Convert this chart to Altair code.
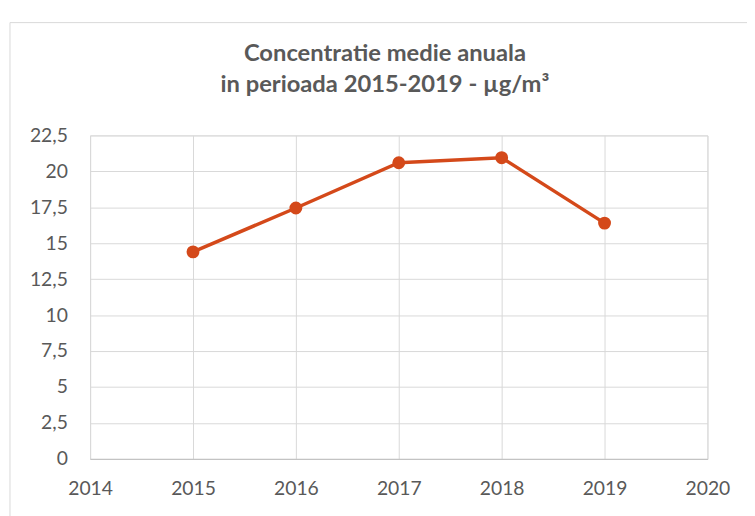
import altair as alt
import pandas as pd

years = [2015, 2016, 2017, 2018, 2019]
values = [14.4, 17.45, 20.6, 20.95, 16.4]
title_lines = ["Concentratie medie anuala", "in perioada 2015-2019 - µg/m³"]

df = pd.DataFrame({"an": years, "valoare": values})

W, H = 624, 327
color = "#D4491A"
txt = "#595959"
font = "Lato"

border = alt.Chart(pd.DataFrame({"a": [0]})).mark_rect(
    fillOpacity=0, stroke="#D9D9D9", strokeWidth=1
).encode(
    x=alt.value(-81), x2=alt.value(W + 200),
    y=alt.value(-114), y2=alt.value(H + 200)
)

base = alt.Chart(df).encode(
    x=alt.X("an:Q", scale=alt.Scale(domain=[2014, 2020], nice=False),
            axis=alt.Axis(values=[2014, 2015, 2016, 2017, 2018, 2019, 2020], format="d",
                          title=None, ticks=False, domain=True, domainColor="#BFBFBF",
                          labelPadding=21, labelFontSize=19.5, labelColor=txt, labelFont=font,
                          gridColor="#D9D9D9", labelFlush=False)),
    y=alt.Y("valoare:Q", scale=alt.Scale(domain=[0, 22.5], nice=False),
            axis=alt.Axis(values=[0, 2.5, 5, 7.5, 10, 12.5, 15, 17.5, 20, 22.5],
                          labelExpr="replace(toString(datum.value), '.', ',')",
                          title=None, ticks=False, domain=False, labelPadding=23,
                          labelFontSize=19.5, labelColor=txt, labelFont=font,
                          gridColor="#D9D9D9")),
)

line = base.mark_line(color=color, strokeWidth=3.5)
pts = base.mark_circle(color=color, size=170, opacity=1)

chart = alt.layer(border, line, pts).properties(
    width=W, height=H,
    title=alt.TitleParams(title_lines, fontSize=24, font=font, fontWeight="bold",
                          color=txt, anchor="middle", offset=36, lineHeight=32,
                          baseline="alphabetic", dy=131, dx=-14, frame="group"),
    autosize=alt.AutoSizeParams(type="none"),
    padding={"left": 83, "top": 126, "right": 40, "bottom": 60},
).configure_view(stroke=None).configure(background="white")

chart.save("out.html", embed_options={"renderer": "svg", "actions": False})
